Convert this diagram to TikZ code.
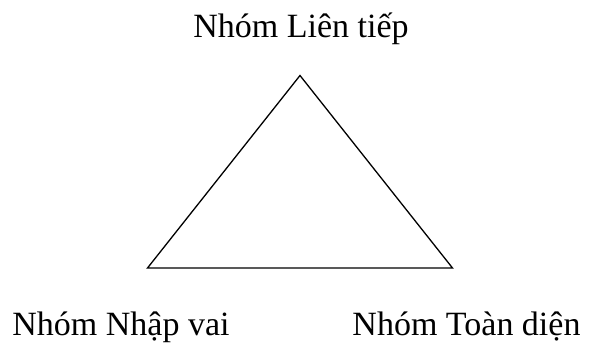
\documentclass[tikz,border=0pt]{standalone}
\usepackage{fontspec}
\setmainfont{Liberation Serif}
\usetikzlibrary{positioning}

\tikzset{
  grouplabel/.style={inner sep=0pt, anchor=base, font=\fontsize{34}{40}\selectfont},
  triline/.style={draw=black, line width=1.3pt, line join=miter}
}

\begin{document}
\begin{tikzpicture}[x=1pt,y=-1pt]
  \useasboundingbox (0,0) rectangle (592,343);

  % Triangle corners
  \coordinate (top) at (300,75.5);
  \coordinate (left) at (147.5,268);
  \coordinate (right) at (452.5,268);

  \draw[triline] (top) -- (left) -- (right) -- cycle;

  % Group labels
  \node[grouplabel] (lientiep) at (301,37) {Nhóm Liên tiếp};
  \node[grouplabel] (nhapvai) at (121,335.5) {Nhóm Nhập vai};
  \node[grouplabel] (toandien) at (466.5,335.5) {Nhóm Toàn diện};
\end{tikzpicture}
\end{document}
